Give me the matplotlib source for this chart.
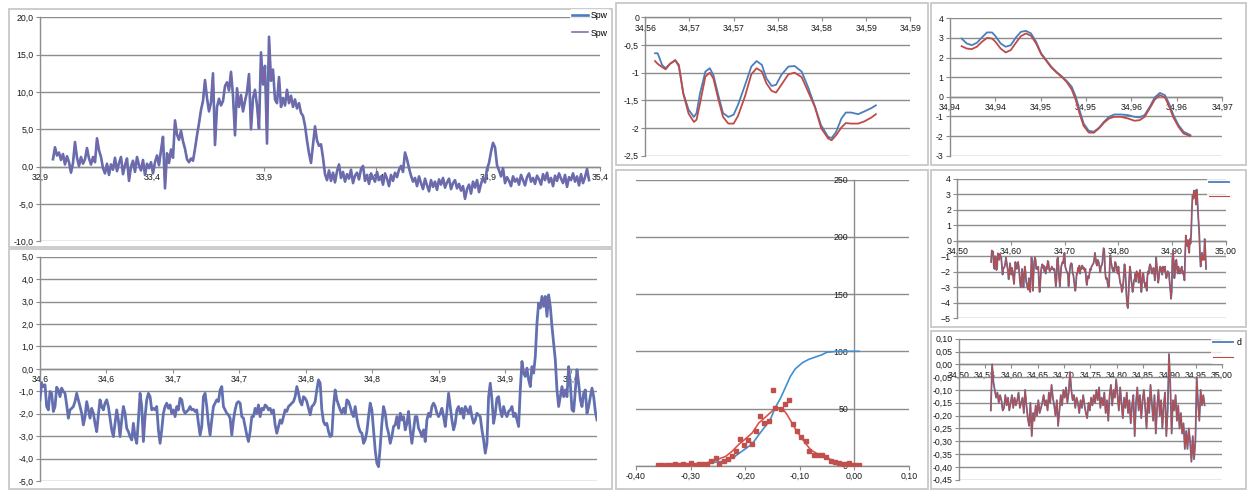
import matplotlib
matplotlib.use('Agg')
import matplotlib.pyplot as plt
from matplotlib.patches import Rectangle
from matplotlib.ticker import FuncFormatter
import numpy as np

# ---------------------------------------------------------------- data
# top-left: long record, two traces "Spw"
spw_long = [
    1.0, 2.6, 1.5, 1.9, 0.9, 1.7, 0.3, 1.4, 0.6, -0.8,
    0.5, 3.3, 1.2, 0.1, 1.3, 0.4, 1.0, 2.5, 1.1, 0.3,
    1.3, 0.6, 3.8, 2.2, 1.3, -0.2, -0.9, 0.4, -1.1, 0.3,
    -0.4, 1.2, -0.6, 0.5, 1.3, -1.0, 0.2, 1.1, -1.9, 0.0,
    0.8, -0.7, 1.3, 0.2, -0.5, 0.9, -1.1, 0.4, -0.2, 0.6,
    -0.9, 0.6, 1.5, 0.2, 2.2, 4.0, -2.9, 1.8, 0.5, 2.3,
    1.2, 6.2, 4.3, 3.6, 4.8, 3.4, 2.4, 1.0, 0.6, 1.1,
    0.8, 2.4, 4.2, 5.8, 7.6, 8.8, 11.6, 9.2, 7.4, 8.6,
    12.5, 2.9, 8.0, 9.1, 8.2, 8.8, 10.8, 11.3, 10.2, 12.7,
    9.5, 4.2, 10.5, 8.0, 9.6, 7.4, 8.8, 10.0, 12.4, 5.0,
    9.2, 10.3, 8.2, 5.1, 15.3, 11.0, 13.5, 3.1, 17.4, 11.5,
    13.0, 9.0, 8.5, 12.0, 8.0, 9.2, 8.2, 10.3, 8.5, 9.5,
    8.0, 9.0, 7.8, 8.5, 7.2, 6.8, 5.5, 3.5, 1.8, 0.5,
    3.0, 5.4, 3.5, 2.8,
    3.0, 1.2, -1.0, -1.8, -0.5, -1.9, -0.8, -2.1, -0.6, 0.3,
    -1.5, -0.7, -2.0, -1.0, -1.6, -0.4, -2.2, -1.2, -0.8, -1.7,
    -0.3, 0.1, -1.9, -1.1, -2.3, -0.9, -1.5, -2.0, -0.7, -1.8,
    -1.3, -2.4, -0.9, -1.6, -2.6, -1.1, -1.9, -0.8, -1.4, -0.4,
    0.1, -0.7, 1.9, 1.0, -0.2, -1.2, -2.0, -1.5, -2.6, -1.3,
    -2.2, -3.0, -1.6, -2.5, -3.3, -1.8, -2.7, -2.0, -3.1, -1.7,
    -2.4, -1.5, -2.8, -2.1, -1.6, -3.0, -2.2, -1.8, -2.9, -2.3,
    -3.2, -2.6, -4.3, -3.0, -2.4, -3.6, -2.0, -2.8, -1.8, -3.4,
    -2.3, -1.5, -2.1, -0.3, 0.5, 2.0, 3.2, 2.6, 0.2, -0.5,
    -1.3, -0.2, -2.2, -1.4, -1.9, -2.6, -1.3, -2.0, -1.6, -2.4,
    -1.1, -1.8, -2.5, -1.4, -0.9, -2.0, -1.5, -2.3, -1.2, -1.7,
    -2.4, -1.0, -1.8, -0.8, -2.1, -1.5, -2.6, -1.2, -1.9, -0.9,
    -1.6, -2.2, -1.1, -2.7, -1.4, -1.8, -0.9, -2.0, -1.3, -2.5,
    -1.0, -2.2, -1.4, -0.3, -1.8,
]
long_start, long_end = 32.958, 35.351

# bottom-left / right-middle: 34.56 - 34.98 segment
spw_seg = [
    -1.38, -0.64, -0.79, -0.71, -1.68, -1.83, -1.01, -1.09, -1.90, -1.68,
    -0.82, -0.94, -1.24, -0.86, -1.01, -1.09, -1.61, -2.20, -1.83, -1.76,
    -1.68, -1.46, -1.09, -1.38, -1.68, -1.98, -2.50, -2.13, -1.46, -1.83,
    -2.20, -1.76, -1.98, -2.43, -2.80, -2.05, -1.38, -1.68, -1.83, -1.53,
    -1.38, -1.68, -2.20, -2.72, -3.02, -2.43, -1.83, -2.28, -3.02, -2.28,
    -1.68, -1.98, -2.65, -2.80, -3.02, -3.17, -2.43, -3.02, -3.32, -2.28,
    -1.09, -1.68, -3.24, -2.13, -1.38, -1.09, -1.24, -1.83, -1.76, -1.83,
    -1.68, -2.72, -3.32, -2.72, -1.98, -1.68, -1.53, -1.76, -1.61, -1.98,
    -1.83, -2.13, -1.68, -1.83, -1.31, -1.38, -1.83, -1.98, -1.90, -1.83,
    -1.68, -1.83, -1.80, -1.90, -1.83, -2.43, -2.95, -2.57, -1.24, -1.09,
    -1.68, -2.43, -2.95, -2.28, -1.68, -1.53, -1.38, -1.46, -0.94, -0.79,
    -1.68, -1.83, -1.98, -2.05, -2.20, -2.95, -2.28, -1.83, -1.53, -1.46,
    -1.53, -2.13, -2.20, -2.57, -2.95, -3.24, -2.80, -2.13, -2.13, -1.76,
    -1.98, -1.61, -2.13, -1.76, -1.83, -1.61, -1.68, -1.83, -1.76, -1.98,
    -1.83, -2.50, -2.87, -2.57, -2.28, -2.43, -2.13, -1.83, -1.90, -1.68,
    -1.61, -1.53, -1.46, -1.24, -0.79, -1.09, -1.46, -1.61, -1.24, -1.31,
    -1.46, -1.76, -2.05, -1.68, -1.61, -1.46, -0.94, -0.49, -0.64,
    -1.83, -2.35, -2.50, -2.43, -2.80, -3.02, -2.95, -1.68, -0.94, -1.38,
    -1.61, -1.83, -1.98, -1.76, -1.98, -1.38, -1.46, -1.68, -1.98, -2.13,
    -1.68, -2.20, -2.57, -2.80, -2.87, -3.32, -3.17, -2.80, -2.13, -1.53,
    -1.83, -2.72, -3.62, -4.21, -4.36, -3.47, -2.43, -1.68, -1.98, -2.57,
    -2.87, -3.32, -3.02, -2.57, -2.50, -2.13, -2.65, -1.98, -2.28, -2.13,
    -2.72, -2.43, -1.90, -2.72, -3.32, -2.72, -2.13, -2.13, -2.65, -2.80,
    -3.02, -2.72, -3.24, -2.28, -1.98, -2.13, -1.68, -1.53, -1.68, -1.98,
    -2.13, -1.98, -1.76, -2.13, -2.57, -1.90, -1.09, -1.68, -2.28, -2.72,
    -2.43, -1.83, -1.68, -1.98, -1.76, -2.20, -1.68, -1.83, -1.98, -1.68,
    -2.13, -2.43, -2.28, -1.98, -2.05, -2.13, -2.72, -3.17, -3.76, -3.32,
    -1.24, -0.64, -1.38, -2.43, -1.98, -1.31, -1.24, -1.83, -2.13, -1.68,
    -1.98, -2.13, -1.90, -1.83, -1.68, -2.13, -1.98, -2.28, -2.57, -0.94,
    0.33, -0.19, -0.34, 0.03, -0.49, -0.79, 0.10, -0.19, 0.55, 2.04,
    2.93, 2.71, 3.23, 2.78, 3.23, 2.34, 3.30, 2.78, 1.89, 1.15,
    0.40, -0.94, -1.68, -1.24, -0.79, -1.24, -0.94, -1.24, 0.10, -0.64,
    -1.83, -1.90, -0.94, -0.04, -0.64, -1.38, -1.68, -1.09, -0.94, -1.98,
    -1.68, -1.24, -0.86, -1.24, -1.90, -2.28,
]
seg_start, seg_end = 34.563, 34.9822
seg_cut = 34.964          # right-middle chart stops here

# top-middle zoom 34.563 - 34.593
zc_x = [34.5641, 34.5644, 34.5649, 34.5653, 34.5658, 34.5664, 34.5668, 34.5673,
        34.5679, 34.5685, 34.5688, 34.5692, 34.5698, 34.5703, 34.5707, 34.5713,
        34.5718, 34.5724, 34.5730, 34.5735, 34.5743, 34.5750, 34.5756, 34.5762,
        34.5767, 34.5773, 34.5778, 34.5784, 34.5792, 34.5799, 34.5807, 34.5814,
        34.5822, 34.5829, 34.5837, 34.5841, 34.5846, 34.5852, 34.5857, 34.5863,
        34.5871, 34.5878, 34.5886, 34.5891]
zc_blue = [-0.65, -0.65, -0.86, -0.92, -0.84, -0.77, -0.89, -1.37, -1.67, -1.80,
           -1.73, -1.37, -0.98, -0.92, -1.04, -1.43, -1.73, -1.80, -1.76, -1.58,
           -1.22, -0.89, -0.79, -0.86, -1.10, -1.24, -1.22, -1.04, -0.89, -0.88,
           -0.98, -1.25, -1.61, -1.95, -2.16, -2.18, -2.07, -1.83, -1.72, -1.72,
           -1.75, -1.70, -1.64, -1.59]
zc_red = [-0.79, -0.84, -0.90, -0.94, -0.84, -0.78, -0.86, -1.38, -1.74, -1.89,
          -1.85, -1.55, -1.07, -1.00, -1.10, -1.50, -1.80, -1.92, -1.92, -1.78,
          -1.42, -1.03, -0.92, -0.98, -1.19, -1.33, -1.36, -1.22, -1.03, -1.00,
          -1.08, -1.33, -1.62, -2.00, -2.19, -2.22, -2.13, -1.99, -1.91, -1.92,
          -1.92, -1.88, -1.81, -1.75]

# top-right zoom 34.938 - 34.968
zd_x = [34.93931, 34.93987, 34.94043, 34.94098, 34.94154, 34.94210, 34.94266,
        34.94304, 34.94360, 34.94416, 34.94472, 34.94528, 34.94583, 34.94639,
        34.94695, 34.94751, 34.94807, 34.94863, 34.94919, 34.94975, 34.95031,
        34.95087, 34.95143, 34.95188, 34.95229, 34.95274, 34.95330, 34.95386,
        34.95442, 34.95498, 34.95554, 34.95610, 34.95684, 34.95759, 34.95834,
        34.95890, 34.95945, 34.96001, 34.96057, 34.96113, 34.96169, 34.96214,
        34.96262, 34.96318, 34.96374, 34.96449]
zd_blue = [2.97, 2.72, 2.63, 2.75, 3.02, 3.28, 3.28, 3.09, 2.72, 2.55, 2.63, 3.02,
           3.31, 3.36, 3.23, 2.80, 2.21, 1.87, 1.53, 1.27, 1.05, 0.81, 0.51, 0.00,
           -0.68, -1.36, -1.73, -1.78, -1.58, -1.27, -1.02, -0.90, -0.90, -0.93,
           -1.02, -1.05, -0.93, -0.51, -0.03, 0.20, 0.08, -0.34, -0.93, -1.44,
           -1.78, -1.95]
zd_red = [2.58, 2.46, 2.43, 2.55, 2.80, 3.00, 2.97, 2.80, 2.46, 2.26, 2.38, 2.75,
          3.09, 3.23, 3.11, 2.72, 2.17, 1.83, 1.49, 1.24, 1.02, 0.76, 0.37, -0.17,
          -0.85, -1.48, -1.82, -1.83, -1.61, -1.32, -1.10, -1.02, -1.02, -1.10,
          -1.22, -1.19, -1.02, -0.59, -0.14, 0.08, -0.03, -0.48, -1.05, -1.53,
          -1.87, -2.00]

# bottom-middle: distribution
cum_x = [-0.340, -0.288, -0.261, -0.242, -0.221, -0.206, -0.187, -0.175, -0.163,
         -0.154, -0.145, -0.135, -0.126, -0.117, -0.108, -0.095, -0.083, -0.071,
         -0.059, -0.050, -0.034, -0.016, 0.009]
cum_y = [0, 1, 2.6, 3.8, 7.3, 12.5, 19, 27, 34.4, 40, 50.5, 59, 68.5, 78, 84.6,
         90, 93, 95, 97, 99.2, 99.8, 100, 100]
fit_x = [-0.334, -0.285, -0.261, -0.248, -0.236, -0.224, -0.212, -0.199, -0.187,
         -0.175, -0.163, -0.152, -0.145, -0.132, -0.123, -0.114, -0.105, -0.092,
         -0.080, -0.065, -0.050, -0.034, -0.016, 0.009]
fit_y = [0.3, 1.5, 3.2, 6, 8, 12.5, 18.4, 23.6, 28.6, 37.3, 42.3, 47, 50.5, 50.5,
         44.6, 37.3, 30, 21.3, 14, 9.6, 6.7, 3.8, 1.5, 0.3]
hist_x = [-0.360, -0.352, -0.344, -0.337, -0.329, -0.322, -0.314, -0.306, -0.300,
          -0.292, -0.285, -0.278, -0.270, -0.262, -0.254, -0.247, -0.239, -0.232,
          -0.224, -0.217, -0.210, -0.202, -0.195, -0.187, -0.180, -0.173, -0.165,
          -0.157, -0.149, -0.145, -0.135, -0.127, -0.120, -0.112, -0.105, -0.097,
          -0.089, -0.082, -0.074, -0.066, -0.059, -0.051, -0.043, -0.035, -0.028,
          -0.020, -0.013, -0.009, -0.004, 0.002, 0.008]
hist_y = [0.9, 0.9, 0.9, 0.3, 1.5, 0.9, 1.5, 0.9, 2.0, 0.3, 1.5, 1.5, 1.5, 3.8,
          6.7, 1.5, 3.8, 6.1, 8.2, 13.1, 23.6, 18.4, 22.7, 19.2, 30.6, 43.2, 37.3,
          39.4, 66.5, 50.5, 49.9, 54.3, 57.8, 36.5, 30.6, 24.8, 21.9, 13.1, 9.6,
          9.6, 9.6, 7.3, 4.4, 3.2, 2.3, 1.5, 1.5, 2.3, 0.9, 0.3, 0.3]

# bottom-right: small-amplitude record
d_vals = [
    -0.18, 0.00, -0.07, -0.10, -0.13, -0.11, -0.15, -0.12,
    -0.14, -0.18, -0.17, -0.12, -0.16, -0.13, -0.18, -0.15,
    -0.12, -0.17, -0.13, -0.16, -0.14, -0.11, -0.17, -0.15,
    -0.13, -0.19, -0.10, -0.16, -0.21, -0.24, -0.15, -0.28,
    -0.19, -0.22, -0.16, -0.20, -0.14, -0.19, -0.17, -0.15,
    -0.12, -0.16, -0.14, -0.18, -0.11, -0.15, -0.08, -0.13,
    -0.16, -0.20, -0.14, -0.24, -0.18, -0.12, -0.16, -0.10,
    -0.13, -0.09, -0.15, -0.11, -0.03, -0.10, -0.14, -0.12,
    -0.17, -0.13, -0.15, -0.19, -0.14, -0.17, -0.12, -0.16,
    -0.19, -0.21, -0.15, -0.18, -0.13, -0.16, -0.12, -0.15,
    -0.10, -0.14, -0.09, -0.17, -0.13, -0.16, -0.11, -0.19,
    -0.14, -0.22, -0.12, -0.08, -0.16, -0.10, -0.13, -0.06,
    -0.12, -0.18, -0.09, -0.15, -0.21, -0.13, -0.17, -0.11,
    -0.19, -0.14, -0.23, -0.16, -0.12, -0.28, -0.15, -0.09,
    -0.18, -0.12, -0.21, -0.14, -0.10, -0.17, -0.25, -0.13,
    -0.19, -0.08, -0.15, -0.22, -0.12, -0.27, -0.17, -0.10,
    -0.20, -0.14, -0.25, -0.16, -0.11, -0.28, -0.18, 0.04,
    -0.08, -0.27, -0.14, -0.18, -0.12, -0.22, -0.16, -0.25,
    -0.19, -0.27, -0.23, -0.33, -0.26, -0.33, -0.25, -0.30,
    -0.38, -0.28, -0.37, -0.30, -0.05, -0.15, -0.22, -0.10,
    -0.16, -0.12, -0.16,
]
d_start, d_end = 34.561, 34.967

# ---------------------------------------------------------------- style
plt.rcParams['font.family'] = ['Liberation Sans', 'DejaVu Sans']
GRID = '#8c8c8c'
BORDER = '#c8c8c8'
BLUE = '#4a7ebb'
RED = '#be4b48'
PURPLE = '#7f62a6'
TXT = '#1a1a1a'
FS = 6.3

W, H = 1250, 492
fig = plt.figure(figsize=(W / 100, H / 100), dpi=100)
fig.patch.set_facecolor('white')

# chart frames, in pixels
bg = fig.add_axes([0, 0, 1, 1], zorder=-5)
bg.set_xlim(0, W)
bg.set_ylim(H, 0)
bg.axis('off')
frames = [(9, 9, 612, 247), (9, 249, 612, 489), (616, 3, 928, 165),
          (931, 3, 1246, 165), (616, 170, 928, 489), (931, 170, 1246, 327),
          (931, 331, 1246, 489)]
for l, t, r, b in frames:
    bg.add_patch(Rectangle((l, t), r - l, b - t, fill=False, ec=BORDER, lw=1.3))


def fmt(nd):
    return FuncFormatter(lambda v, p: f'{v:.{nd}f}'.replace('.', ',').replace('-0,00', '0,00'))


def panel(l, t, r, b):
    ax = fig.add_axes([l / W, 1 - b / H, (r - l) / W, (b - t) / H])
    ax.patch.set_alpha(0)
    for s in ('top', 'right'):
        ax.spines[s].set_visible(False)
    for s in ('left', 'bottom'):
        ax.spines[s].set_color(GRID)
        ax.spines[s].set_linewidth(1.0)
    ax.yaxis.grid(True, color=GRID, lw=1.0)
    ax.set_axisbelow(True)
    ax.tick_params(direction='out', length=3, width=0.8, color=GRID,
                   labelsize=FS, pad=1.5, labelcolor=TXT)
    return ax


# ---- top-left
ax = panel(40, 17.3, 600, 241.4)
t_long = np.linspace(long_start, long_end, len(spw_long))
l1, = ax.plot(t_long, spw_long, color=BLUE, lw=1.9, zorder=3)
l2, = ax.plot(t_long, spw_long, color=PURPLE, lw=1.1, zorder=3)
ax.set_xlim(32.9, 35.4)
ax.set_ylim(-10, 20)
ax.set_xticks([32.9, 33.4, 33.9, 34.4, 34.9, 35.4])
ax.set_yticks([-10, -5, 0, 5, 10, 15, 20])
ax.xaxis.set_major_formatter(fmt(1))
ax.yaxis.set_major_formatter(fmt(1))
ax.spines['bottom'].set_position(('data', 0))
leg = ax.legend([l1, l2], ['Spw', 'Spw'], loc='upper left',
                bbox_to_anchor=(0.946, 1.035), fontsize=FS, frameon=True,
                handlelength=1.9, handletextpad=0.3, labelspacing=0.95,
                borderpad=0.2, borderaxespad=0)
leg.get_frame().set_facecolor('white')
leg.get_frame().set_edgecolor('none')

# ---- bottom-left
t_seg = np.linspace(seg_start, seg_end, len(spw_seg))
ax = panel(40, 256.7, 597, 481)
ax.plot(t_seg, spw_seg, color=BLUE, lw=2.0, zorder=3)
ax.plot(t_seg, spw_seg, color=PURPLE, lw=0.9, zorder=3)
ax.set_xlim(seg_start, seg_end)
ax.set_ylim(-5, 5)
ax.set_xticks(seg_start + 0.05 * np.arange(9))
ax.set_yticks(np.arange(-5, 6))
ax.xaxis.set_major_formatter(fmt(1))
ax.yaxis.set_major_formatter(fmt(1))
ax.spines['bottom'].set_position(('data', 0))

# ---- top-middle
ax = panel(645.3, 17.3, 910.3, 155.7)
ax.plot(zc_x, zc_blue, color=BLUE, lw=1.3, zorder=3)
ax.plot(zc_x, zc_red, color=RED, lw=1.3, zorder=3)
ax.set_xlim(34.563, 34.593)
ax.set_ylim(-2.5, 0)
ax.set_xticks(34.563 + 0.005 * np.arange(7))
ax.set_yticks([-2.5, -2, -1.5, -1, -0.5, 0])
ax.xaxis.set_major_formatter(fmt(2))
ax.yaxis.set_major_formatter(FuncFormatter(lambda v, p: f'{v:g}'.replace('.', ',')))
ax.spines['bottom'].set_position(('data', 0))

# ---- top-right
ax = panel(949.7, 18.3, 1222.3, 155.7)
ax.plot(zd_x, zd_blue, color=BLUE, lw=1.3, zorder=3)
ax.plot(zd_x, zd_red, color=RED, lw=1.3, zorder=3)
ax.set_xlim(34.938, 34.968)
ax.set_ylim(-3, 4)
ax.set_xticks(34.938 + 0.005 * np.arange(7))
ax.set_yticks(np.arange(-3, 5))
ax.xaxis.set_major_formatter(fmt(2))
ax.yaxis.set_major_formatter(FuncFormatter(lambda v, p: f'{v:g}'))
ax.spines['bottom'].set_position(('data', 0))

# ---- bottom-middle
ax = panel(636, 179.7, 908.7, 465.7)
ax.plot(cum_x, cum_y, color='#3f8fd2', lw=1.2, zorder=3)
ax.plot(fit_x, fit_y, color='#e0504a', lw=1.2, zorder=3)
ax.plot(hist_x, hist_y, ls='none', marker='s', ms=2.6, color='#c0504d', zorder=4)
ax.set_xlim(-0.4, 0.1)
ax.set_ylim(0, 250)
ax.set_xticks([-0.4, -0.3, -0.2, -0.1, 0.0, 0.1])
ax.set_yticks([0, 50, 100, 150, 200, 250])
ax.xaxis.set_major_formatter(fmt(2))
ax.spines['left'].set_position(('data', 0))

# ---- right-middle
keep = t_seg <= seg_cut
ax = panel(957.3, 178.7, 1225.7, 318)
b1, = ax.plot(t_seg[keep], np.array(spw_seg)[keep], color=BLUE, lw=1.3, zorder=3)
b2, = ax.plot(t_seg[keep], np.array(spw_seg)[keep], color=RED, lw=0.8, zorder=3)
ax.set_xlim(34.5, 35.0)
ax.set_ylim(-5, 4)
ax.set_xticks([34.5, 34.6, 34.7, 34.8, 34.9, 35.0])
ax.set_yticks(np.arange(-5, 5))
ax.xaxis.set_major_formatter(fmt(2))
ax.spines['bottom'].set_position(('data', 0))
leg = ax.legend([b1, b2], [' ', ' '], loc='upper left', bbox_to_anchor=(0.93, 1.02),
                fontsize=FS, handlelength=2.3, handletextpad=0.1, labelspacing=0.6,
                borderpad=0.2, borderaxespad=0)
leg.get_frame().set_facecolor('white')
leg.get_frame().set_edgecolor('none')

# ---- bottom-right
t_d = np.linspace(d_start, d_end, len(d_vals))
ax = panel(958.7, 338.7, 1222, 479.7)
g1, = ax.plot(t_d, d_vals, color=BLUE, lw=1.3, zorder=3)
g2, = ax.plot(t_d, d_vals, color=RED, lw=0.8, zorder=3)
ax.set_xlim(34.5, 35.0)
ax.set_ylim(-0.45, 0.10)
ax.set_xticks(np.round(34.5 + 0.05 * np.arange(11), 2))
ax.set_yticks(np.round(np.arange(-0.45, 0.11, 0.05), 2))
ax.xaxis.set_major_formatter(fmt(2))
ax.yaxis.set_major_formatter(fmt(2))
ax.spines['bottom'].set_position(('data', 0))
leg = ax.legend([g1, g2], ['d', ' '], loc='upper left', bbox_to_anchor=(0.96, 1.015),
                fontsize=FS, handlelength=2.3, handletextpad=0.4, labelspacing=0.7,
                borderpad=0.2, borderaxespad=0)
leg.get_frame().set_facecolor('white')
leg.get_frame().set_edgecolor('none')

fig.savefig('out.png', dpi=100, facecolor='white')
